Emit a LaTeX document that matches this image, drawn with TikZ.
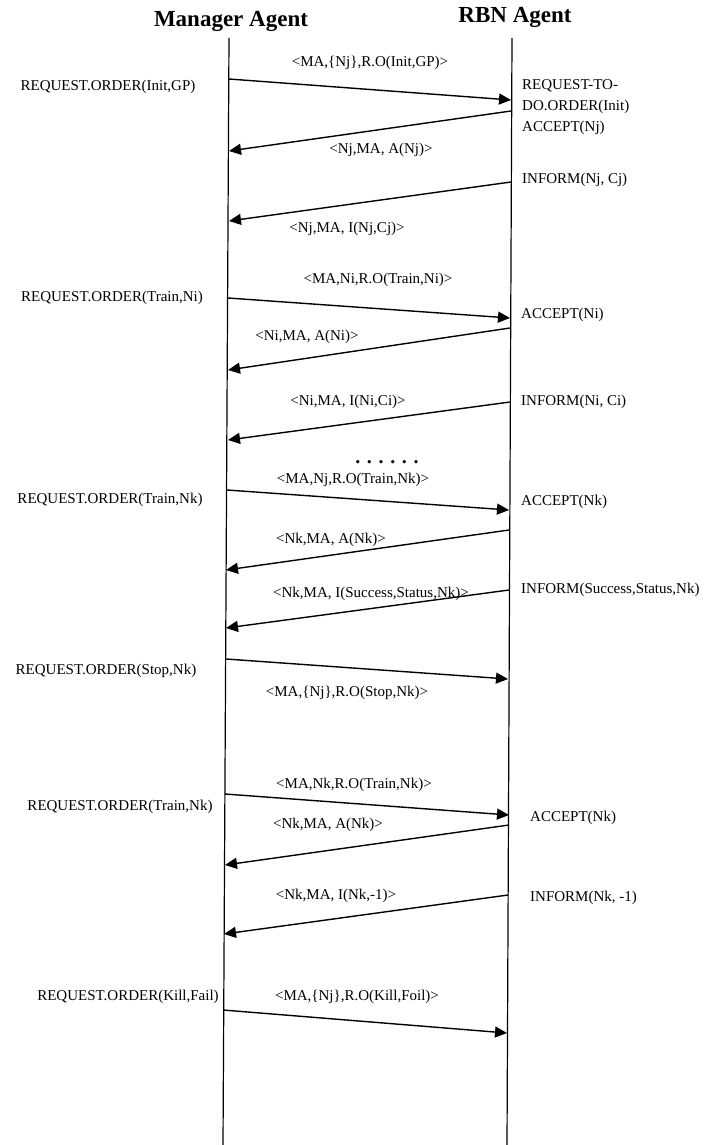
\documentclass[tikz,border=0pt]{standalone}
\usepackage{fontspec}
\setmainfont{Liberation Serif}
\usetikzlibrary{arrows.meta}

\begin{document}
\begin{tikzpicture}[x=1pt, y=-1pt,
    msg/.style={-{Triangle[length=12pt,width=11pt]}, line width=1.4pt},
    life/.style={line width=1.2pt},
    lbl/.style={inner sep=0pt, font=\fontsize{15}{17}\selectfont},
    head/.style={inner sep=0pt, font=\fontsize{23}{26}\selectfont\bfseries}]
    \useasboundingbox (0,0) rectangle (712,1145);

    % agents and lifelines
    \node[head] (ma)  at (231,21) {Manager Agent};
    \node[head] (rbn) at (515,17) {RBN Agent};

    \coordinate (MAtop)  at (229,38);
    \coordinate (MAbot)  at (223,1145);
    \coordinate (RBNtop) at (512,38);
    \coordinate (RBNbot) at (507,1145);

    \draw[life] (MAtop) -- (MAbot);
    \draw[life] (RBNtop) -- (RBNbot);

    % message end points
    \coordinate (a1s)  at (229,79);   \coordinate (a1e)  at (511,100);
    \coordinate (a2s)  at (511,111);  \coordinate (a2e)  at (229,151);
    \coordinate (a3s)  at (511,182);  \coordinate (a3e)  at (229,221);
    \coordinate (a4s)  at (228,298);  \coordinate (a4e)  at (510,318);
    \coordinate (a5s)  at (510,328);  \coordinate (a5e)  at (228,370);
    \coordinate (a6s)  at (510,402);  \coordinate (a6e)  at (228,440);
    \coordinate (a7s)  at (227,490);  \coordinate (a7e)  at (509,510);
    \coordinate (a8s)  at (509,530);  \coordinate (a8e)  at (226,570);
    \coordinate (a9s)  at (509,590);  \coordinate (a9e)  at (226,628);
    \coordinate (a10s) at (226,659);  \coordinate (a10e) at (508,679);
    \coordinate (a11s) at (225,794);  \coordinate (a11e) at (509,815);
    \coordinate (a12s) at (509,825);  \coordinate (a12e) at (225,865);
    \coordinate (a13s) at (508,895);  \coordinate (a13e) at (224,934);
    \coordinate (a14s) at (223,1010); \coordinate (a14e) at (507,1033);

    \foreach \i in {1,...,14}
        \draw[msg] (a\i s) -- (a\i e);

    % manager side
    \node[lbl] (req1) at (108,87)  {REQUEST.ORDER(Init,GP)};
    \node[lbl] (req2) at (112,298) {REQUEST.ORDER(Train,Ni)};
    \node[lbl] (req3) at (110,500) {REQUEST.ORDER(Train,Nk)};
    \node[lbl] (req4) at (106,671) {REQUEST.ORDER(Stop,Nk)};
    \node[lbl] (req5) at (120,807) {REQUEST.ORDER(Train,Nk)};
    \node[lbl] (req6) at (128,997) {REQUEST.ORDER(Kill,Fail)};

    % rbn side
    \node[lbl, anchor=west] (todo1) at (522,86)  {REQUEST-TO-};
    \node[lbl, anchor=west] (todo2) at (522,107) {DO.ORDER(Init)};
    \node[lbl, anchor=west] (acc1)  at (522,128) {ACCEPT(Nj)};
    \node[lbl, anchor=west] (inf1)  at (522,180) {INFORM(Nj, Cj)};
    \node[lbl, anchor=west] (acc2)  at (521,315) {ACCEPT(Ni)};
    \node[lbl, anchor=west] (inf2)  at (521,402) {INFORM(Ni, Ci)};
    \node[lbl, anchor=west] (acc3)  at (521,502) {ACCEPT(Nk)};
    \node[lbl, anchor=west] (inf3)  at (521,590) {INFORM(Success,Status,Nk)};
    \node[lbl, anchor=west] (acc4)  at (530,818) {ACCEPT(Nk)};
    \node[lbl, anchor=west] (inf4)  at (530,898) {INFORM(Nk, -1)};

    % message labels
    \node[lbl] (m1)  at (370,63)  {<MA,\{Nj\},R.O(Init,GP)>};
    \node[lbl] (m2)  at (381,150) {<Nj,MA, A(Nj)>};
    \node[lbl] (m3)  at (347,229) {<Nj,MA, I(Nj,Cj)>};
    \node[lbl] (m4)  at (378,280) {<MA,Ni,R.O(Train,Ni)>};
    \node[lbl] (m5)  at (307,337) {<Ni,MA, A(Ni)>};
    \node[lbl] (m6)  at (348,402) {<Ni,MA, I(Ni,Ci)>};
    \node[inner sep=0pt, font=\fontsize{20}{22}\selectfont\bfseries] (dots) at (387,462) {. . . . . .};
    \node[lbl] (m7)  at (353,480) {<MA,Nj,R.O(Train,Nk)>};
    \node[lbl] (m8)  at (331,540) {<Nk,MA, A(Nk)>};
    \node[lbl] (m9)  at (371,594) {<Nk,MA, I(Success,Status,Nk)>};
    \node[lbl] (m10) at (347,693) {<MA,\{Nj\},R.O(Stop,Nk)>};
    \node[lbl] (m11) at (354,785) {<MA,Nk,R.O(Train,Nk)>};
    \node[lbl] (m12) at (328,825) {<Nk,MA, A(Nk)>};
    \node[lbl] (m13) at (336,896) {<Nk,MA, I(Nk,-1)>};
    \node[lbl] (m14) at (357,997) {<MA,\{Nj\},R.O(Kill,Foil)>};
\end{tikzpicture}
\end{document}
